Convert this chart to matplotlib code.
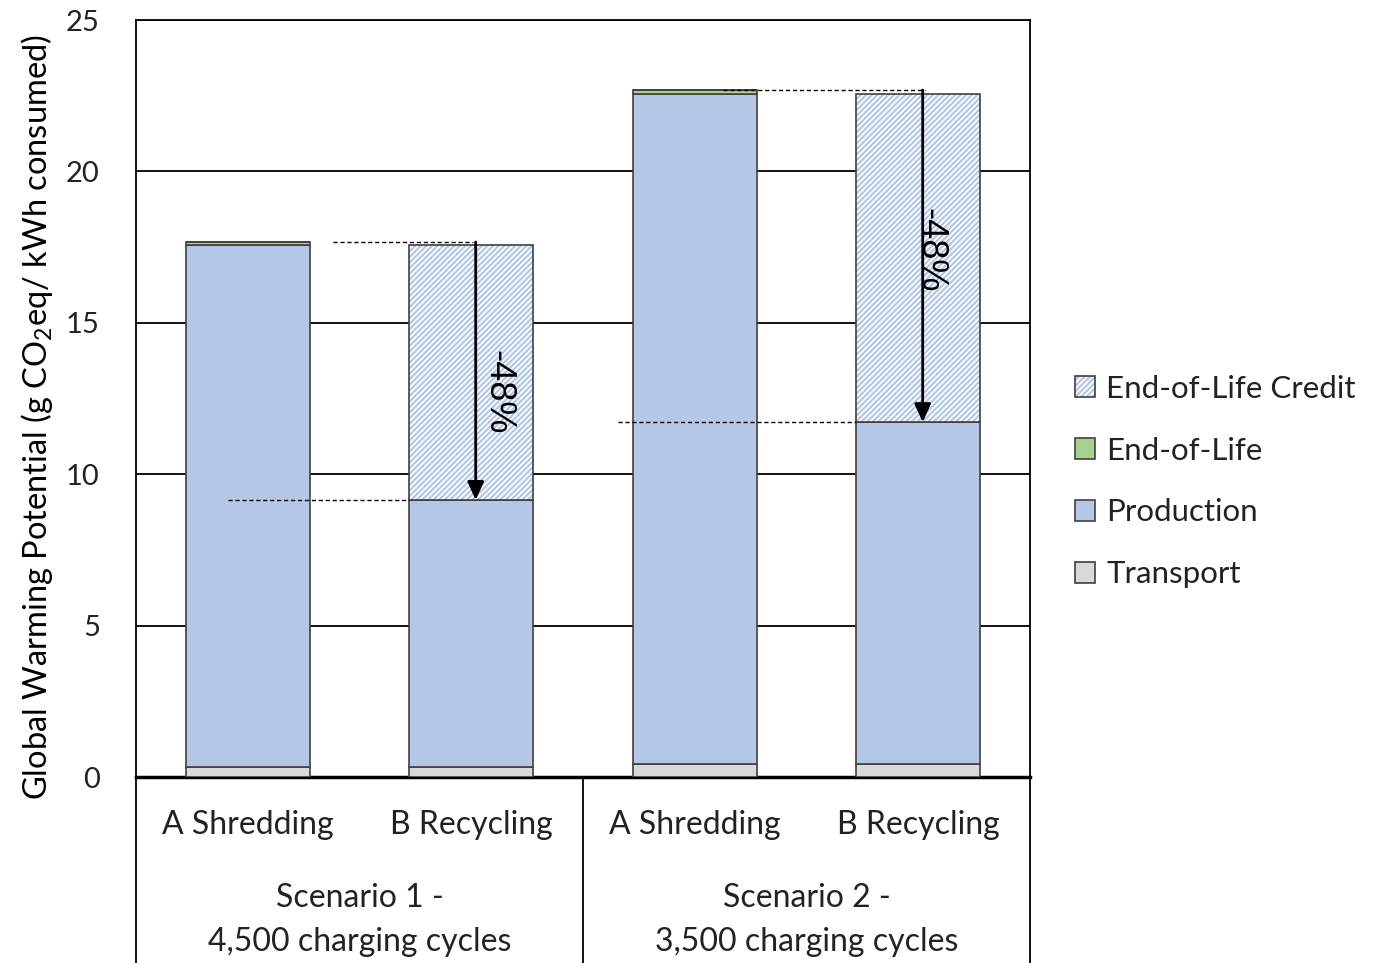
import numpy as np
import matplotlib.pyplot as plt
from matplotlib.patches import Patch

plt.rcParams['font.family'] = ['Lato', 'DejaVu Sans']
plt.rcParams['mathtext.fontset'] = 'custom'
plt.rcParams['mathtext.rm'] = 'Lato'
plt.rcParams['hatch.linewidth'] = 1.6

categories = ['A Shredding', 'B Recycling', 'A Shredding', 'B Recycling']
scenarios = ['Scenario 1 -\n4,500 charging cycles', 'Scenario 2 -\n3,500 charging cycles']
transport = np.array([0.33, 0.33, 0.43, 0.43])
production = np.array([17.24, 8.82, 22.13, 11.29])
end_of_life = np.array([0.10, 0.0, 0.13, 0.0])
eol_credit = np.array([0.0, 8.42, 0.0, 10.84])

c_transport = '#D9D9D9'
c_production = '#B4C7E7'
c_eol = '#A9D18E'
c_edge = '#404040'

fig = plt.figure(figsize=(13.79, 9.63), dpi=100)
ax = fig.add_axes([0.0986, 0.1931, 0.6483, 0.7861])

x = np.arange(len(categories))
w = 0.555

ax.bar(x, transport, w, color=c_transport, edgecolor=c_edge, lw=1.2, zorder=3)
ax.bar(x, production, w, bottom=transport, color=c_production, edgecolor=c_edge, lw=1.2, zorder=3)
base = transport + production
ax.bar(x, end_of_life, w, bottom=base, color=c_eol, edgecolor=c_edge, lw=1.2, zorder=3)
base = base + end_of_life
# credit: hatch layer, then an outline on top
ax.bar(x, eol_credit, w, bottom=base, color='white', edgecolor=c_production, hatch='//////', lw=0, zorder=3)
ax.bar(x, eol_credit, w, bottom=base, color='none', edgecolor=c_edge, lw=1.2, zorder=4)

ax.set_xlim(-0.5, 3.5)
ax.set_ylim(0, 25)
ax.set_yticks([0, 5, 10, 15, 20, 25])
ax.grid(axis='y', color='black', lw=1.3, zorder=0)
ax.set_axisbelow(True)
ax.tick_params(axis='y', length=0, pad=26, labelsize=21, labelcolor='#222222')
ax.tick_params(axis='x', length=0, labelbottom=False)
for s in ['left', 'top', 'right']:
    ax.spines[s].set_linewidth(1.3)
ax.spines['bottom'].set_linewidth(2.5)

ax.set_ylabel('Global Warming Potential (g CO$_2$eq/ kWh consumed)', fontsize=23.5)
ax.yaxis.set_label_coords(-0.091, 0.475)

# two-level category axis
trans = ax.get_xaxis_transform()
for xi, lab in zip(x, categories):
    ax.text(xi, -0.064, lab, transform=trans, ha='center', va='center',
            fontsize=23, color='#222222')
for i, lab in enumerate(scenarios):
    ax.text(2 * i + 0.5, -0.189, lab, transform=trans, ha='center', va='center',
            fontsize=23, color='#222222', linespacing=1.6)
for xv in [-0.5, 1.5, 3.5]:
    ax.plot([xv, xv], [0, -0.3], transform=trans, color='black', lw=1.3, clip_on=False)

# reduction markers between shredding and recycling
totals = transport + production + end_of_life
for a, b, top_x, bot_x, tx, ty in [(0, 1, (0.38, 1.01), (-0.09, 0.72), 1.12, 12.7),
                                   (2, 3, (2.125, 3.03), (1.655, 2.72), 3.05, 17.4)]:
    hi = totals[a]
    lo = transport[b] + production[b]
    ax.plot(top_x, [hi, hi], ls=(0, (3, 2)), color='black', lw=1, zorder=5)
    ax.plot(bot_x, [lo, lo], ls=(0, (3, 2)), color='black', lw=1, zorder=5)
    ax.annotate('', xy=(b + 0.02, lo), xytext=(b + 0.02, hi),
                arrowprops=dict(arrowstyle='-|>,head_length=1.1,head_width=0.5',
                                color='black', lw=2, shrinkA=0, shrinkB=0), zorder=6)
    pct = (lo - hi) / hi * 100
    ax.text(tx, ty, f'{pct:.0f}%', rotation=-90, ha='center', va='center',
            fontsize=26, family='Liberation Sans', zorder=6)

handles = [
    (Patch(facecolor='white', edgecolor=c_production, hatch='//////', lw=0),
     Patch(facecolor='none', edgecolor=c_edge, lw=1.2)),
    Patch(facecolor=c_eol, edgecolor=c_edge, lw=1.2),
    Patch(facecolor=c_production, edgecolor=c_edge, lw=1.2),
    Patch(facecolor=c_transport, edgecolor=c_edge, lw=1.2),
]
labels = ['End-of-Life Credit', 'End-of-Life', 'Production', 'Transport']
leg = fig.legend(handles, labels, loc='center left', bbox_to_anchor=(0.7705, 0.5),
                 frameon=False, fontsize=22.5,
                 handlelength=0.65, handleheight=0.65,
                 handletextpad=0.35, labelspacing=1.08, borderaxespad=0)
for t in leg.get_texts():
    t.set_color('#222222')

fig.savefig('out.png', dpi=100)
